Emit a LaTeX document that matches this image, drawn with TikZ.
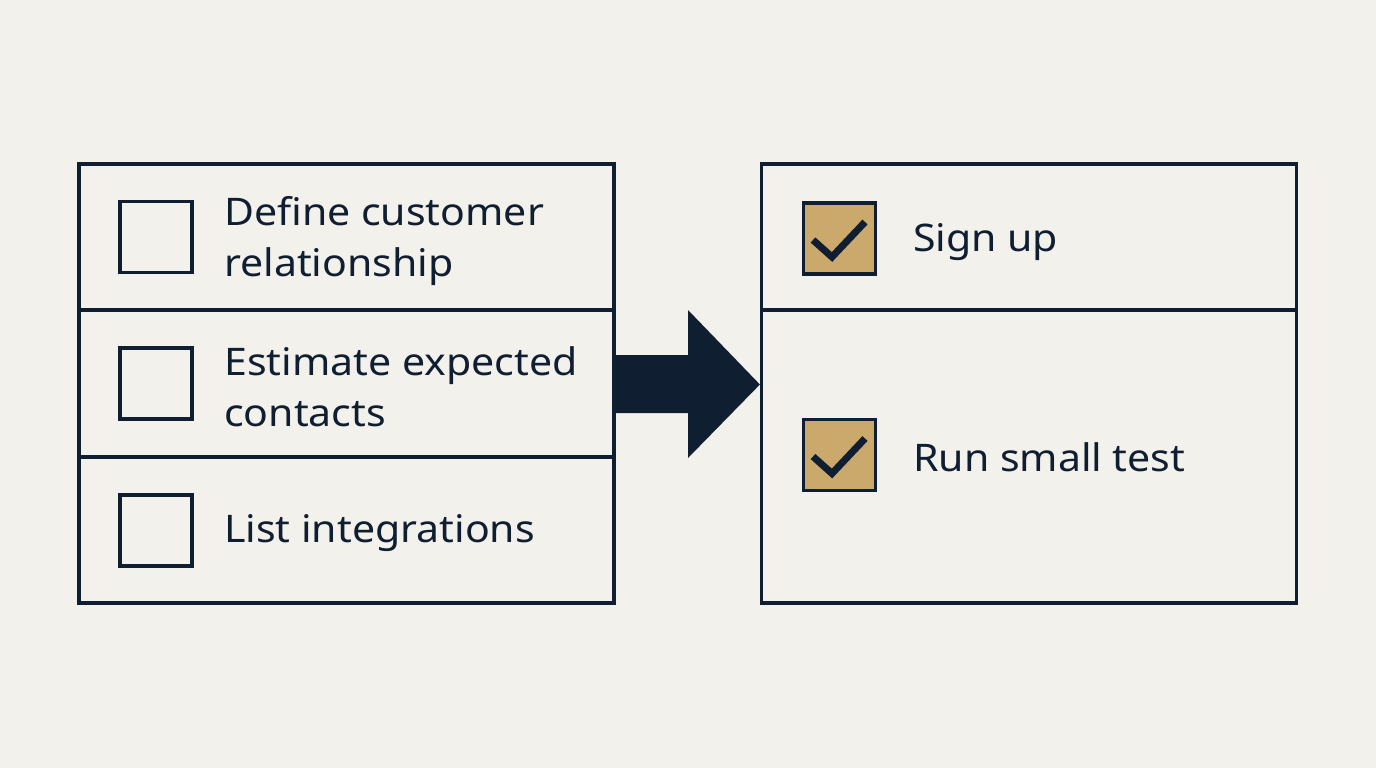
\documentclass[tikz,border=0pt]{standalone}
\usepackage{fontspec}
\setmainfont{Noto Sans}[FakeStretch=1.08]
\definecolor{ink}{HTML}{0F1E30}
\definecolor{bg}{HTML}{F3F1EC}
\definecolor{tan}{HTML}{CBA96C}
\begin{document}
\begin{tikzpicture}[x=1pt,y=-1pt,
  panel/.style={draw=ink,line width=3.2pt,minimum width=535pt,minimum height=439pt,inner sep=0pt},
  box/.style={draw=ink,line width=3.6pt,minimum width=72pt,minimum height=71pt,inner sep=0pt},
  donebox/.style={box,fill=tan},
  lbl/.style={anchor=west,align=left,text=ink,font=\fontsize{38}{51}\selectfont,inner sep=0pt},
  tick/.style={draw=ink,line width=7pt,line cap=butt,line join=miter}]
\fill[bg] (0,0) rectangle (1376,768);
\useasboundingbox (0,0) rectangle (1376,768);
% left panel
\node[panel] (lp) at (346.5,383.5) {};
\draw[ink,line width=3.2pt] (79,310) -- (614,310);
\draw[ink,line width=3.2pt] (79,457) -- (614,457);
\node[box] (c1) at (156,237) {};
\node[box] (c2) at (156,383.5) {};
\node[box] (c3) at (156,530.5) {};
\node[lbl] (t1) at (224,241) {Define customer\\relationship};
\node[lbl] (t2) at (224,387) {Estimate expected\\contacts};
\node[lbl] (t3) at (224,533) {List integrations};
% right panel
\node[panel] (rp) at (1029,383.5) {};
\draw[ink,line width=3.2pt] (761,310) -- (1297,310);
\node[donebox] (d1) at (839.5,238.5) {};
\node[donebox] (d2) at (839.5,455) {};
\draw[tick] (813,240) -- (832,257) -- (865,222);
\draw[tick] (813,456.5) -- (832,473.5) -- (865,438.5);
\node[lbl] (s1) at (913,242) {Sign up};
\node[lbl] (s2) at (913,457) {Run small test};
% arrow
\fill[ink] (lp.east |- 0,355) -- (688,355) -- (688,310) -- (rp.west |- 0,384.5) -- (688,458) -- (688,413) -- (lp.east |- 0,413) -- cycle;
\end{tikzpicture}
\end{document}
